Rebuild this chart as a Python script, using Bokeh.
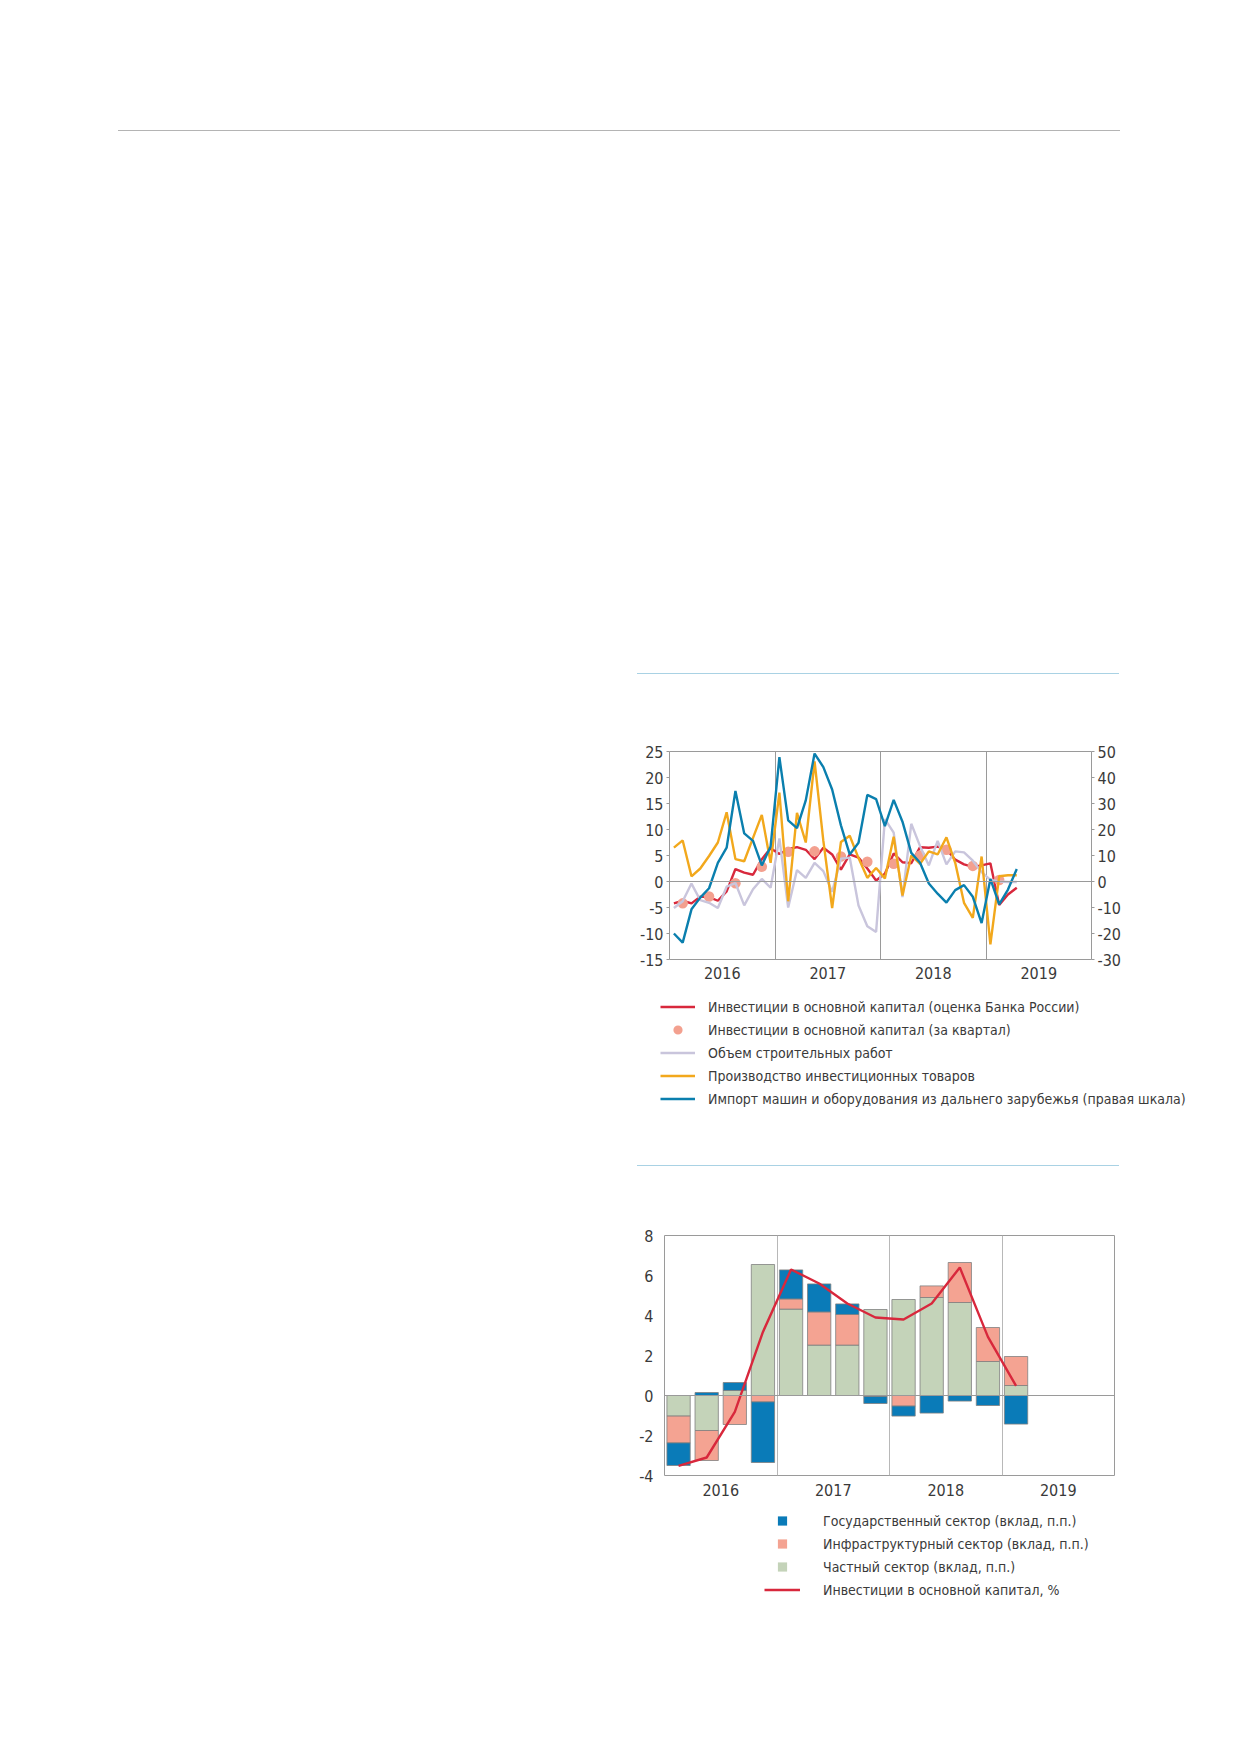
import numpy as np
from bokeh.plotting import figure
from bokeh.models import (Range1d, LinearAxis, FixedTicker, Span, Legend,
                          LegendItem, Spacer, Div)
from bokeh.layouts import column, row
from bokeh.embed import file_html
from bokeh.resources import INLINE

FONT = "'Liberation Sans Narrow', 'DejaVu Sans Condensed', sans-serif"

# ---------------- data: chart 1 (monthly, Jan 2016 .. Apr 2019) ----------------
month_index = list(range(40))
invest_cbr = [-4.2, -3.7, -4.2, -2.9, -3.0, -3.7, -1.9, 2.4, 1.7, 1.3, 4.3, 6.4,
              5.3, 6.2, 6.6, 6.1, 4.3, 6.5, 5.2, 2.3, 5.2, 4.6, 2.5, 0.2,
              1.5, 5.4, 3.7, 3.5, 6.6, 6.5, 6.7, 6.2, 4.2, 3.3, 2.8, 3.1,
              3.5, -4.5, -2.5, -1.2]
construction = [-5.1, -3.8, -0.4, -3.6, -4.1, -5.1, -1.0, -0.3, -4.6, -1.5, 0.5, -1.2,
                8.3, -5.0, 2.2, 0.7, 3.6, 2.0, -2.0, 4.4, 4.6, -4.6, -8.6, -9.7,
                12.0, 9.4, -3.0, 11.1, 6.8, 3.1, 7.8, 3.3, 5.8, 5.6, 4.0, 1.8,
                0.3, 0.0, -0.1, -0.1]
invest_goods = [6.5, 7.9, 1.0, 2.5, 4.9, 7.5, 13.3, 4.3, 3.9, 8.4, 12.8, 3.6,
                17.1, -3.8, 13.2, 7.5, 23.1, 7.8, -5.1, 7.6, 8.8, 4.5, 0.7, 2.6,
                0.6, 8.6, -2.7, 5.0, 3.4, 5.8, 5.2, 8.5, 3.6, -4.1, -7.0, 4.8,
                -12.1, 1.0, 1.2, 1.2]
machinery_import = [-20.0, -23.5, -10.7, -6.2, -2.6, 7.2, 13.0, 34.8, 18.5, 15.6, 6.2, 13.5,
                    47.8, 23.5, 20.5, 31.2, 49.2, 44.0, 35.4, 21.6, 10.4, 14.9, 33.3, 31.7,
                    21.3, 31.4, 23.0, 11.0, 7.2, -0.8, -4.7, -8.1, -3.3, -1.4, -5.9, -16.0,
                    1.0, -8.8, -3.1, 4.8]
quarter_index = list(range(13))          # 2016Q1 .. 2019Q1
invest_quarter = [-4.2, -2.9, -0.35, 2.85, 5.7, 5.8, 4.8, 3.8, 3.4, 5.0, 6.1, 3.0, 0.3]

years = ["2016", "2017", "2018", "2019"]
left_ticks = [-15, -10, -5, 0, 5, 10, 15, 20, 25]
right_ticks = [-30, -20, -10, 0, 10, 20, 30, 40, 50]

legend1_labels = [
    "Инвестиции в основной капитал (оценка Банка России)",
    "Инвестиции в основной капитал (за квартал)",
    "Объем строительных работ",
    "Производство инвестиционных товаров",
    "Импорт машин и оборудования из дальнего зарубежья (правая шкала)",
]

# ---------------- data: chart 2 (quarterly contributions) ----------------
gov_sector = [-1.13, 0.15, 0.40, -3.03, 1.45, 1.40, 0.53, -0.35, -0.50, -0.88, -0.28, -0.50, -1.43]
infra_sector = [-1.34, -1.50, -1.45, -0.32, 0.51, 1.66, 1.53, -0.05, -0.53, 0.58, 2.00, 1.70, 1.45]
private_sector = [-1.03, -1.75, 0.25, 6.55, 4.32, 2.52, 2.52, 4.30, 4.80, 4.90, 4.65, 1.70, 0.50]
invest_total = [-3.52, -3.10, -0.82, 3.18, 6.30, 5.60, 4.60, 3.90, 3.80, 4.60, 6.40, 2.93, 0.48]
bar_ticks = [-4, -2, 0, 2, 4, 6, 8]

legend2_labels = [
    "Государственный сектор (вклад, п.п.)",
    "Инфраструктурный сектор (вклад, п.п.)",
    "Частный сектор (вклад, п.п.)",
    "Инвестиции в основной капитал, %",
]

# ---------------- colours ----------------
RED = "#d8283c"
DOT = "#f3a08f"
GREY = "#c9c5dc"
ORANGE = "#f2a81c"
BLUE = "#0a7fae"
BAR_BLUE = "#0a7bb8"
BAR_PINK = "#f4a392"
BAR_GREEN = "#c4d3b9"
AXIS = "#9a9a9a"
TXT = "#3a3a3a"
TICK_SIZE = "16px"
LEG_SIZE = "14px"

mx = [2016 + (i + 0.5) / 12 for i in month_index]
qx_dots = [2016 + (3 * q + 1.5) / 12 for q in quarter_index]
qx_bars = [2016 + (q + 0.5) / 4 for q in quarter_index]
year_pos = [2016.5 + k for k in range(len(years))]


def style_axis(ax):
    ax.major_label_text_font = FONT
    ax.major_label_text_font_size = TICK_SIZE
    ax.major_label_text_color = TXT
    ax.axis_line_color = None
    ax.minor_tick_line_color = None


def hyphen_labels(ticks):
    return {t: str(t) for t in ticks}


def legend_figure(width, height, labels, makers, glyph_width, standoff):
    f = figure(width=width, height=height, x_range=Range1d(2016, 2020),
               y_range=Range1d(-30, 50), output_backend="svg",
               toolbar_location=None, x_axis_type=None, y_axis_type=None,
               min_border=0, outline_line_color=None)
    f.min_border_left = f.min_border_right = 0
    f.min_border_top = f.min_border_bottom = 0
    rends = [mk(f) for mk in makers]
    for r in rends:
        r.visible = False
    leg = Legend(items=[LegendItem(label=lab, renderers=[r]) for lab, r in zip(labels, rends)],
                 location="top_left", orientation="vertical",
                 glyph_width=glyph_width, glyph_height=23, label_height=23,
                 label_standoff=standoff, spacing=0, padding=0, margin=0,
                 border_line_alpha=0, background_fill_alpha=0, inactive_fill_alpha=0,
                 label_text_font=FONT, label_text_font_size=LEG_SIZE,
                 label_text_color=TXT)
    f.add_layout(leg)
    return f


# ================= chart 1 =================
p1 = figure(width=45 + 422 + 45, height=77 + 208 + 30,
            x_range=Range1d(2016, 2020), y_range=Range1d(-15, 25),
            output_backend="svg", toolbar_location=None,
            min_border_left=45, min_border_right=45, min_border_top=77,
            min_border_bottom=30)
p1.extra_y_ranges = {"right": Range1d(-30, 50)}
p1.outline_line_color = AXIS

p1.yaxis.ticker = FixedTicker(ticks=left_ticks)
p1.yaxis.major_label_overrides = hyphen_labels(left_ticks)
style_axis(p1.yaxis[0])
p1.yaxis.major_tick_in = 0
p1.yaxis.major_tick_out = 3
p1.yaxis.major_tick_line_color = AXIS
p1.yaxis.major_label_standoff = 3

rax = LinearAxis(y_range_name="right", ticker=FixedTicker(ticks=right_ticks),
                 major_label_overrides=hyphen_labels(right_ticks))
style_axis(rax)
rax.major_tick_in = 0
rax.major_tick_out = 3
rax.major_tick_line_color = AXIS
rax.major_label_standoff = 3
p1.add_layout(rax, "right")

p1.xaxis.ticker = FixedTicker(ticks=year_pos)
p1.xaxis.major_label_overrides = {pos: lab for pos, lab in zip(year_pos, years)}
style_axis(p1.xaxis[0])
p1.xaxis.major_tick_line_color = None
p1.xaxis.major_label_standoff = 1

p1.ygrid.grid_line_color = None
p1.xgrid.ticker = FixedTicker(ticks=[2017, 2018, 2019])
p1.xgrid.grid_line_color = AXIS
p1.xgrid.grid_line_width = 1
p1.add_layout(Span(location=0, dimension="width", line_color=AXIS, line_width=1))

line_kw = dict(line_width=2.4)
p1.line(mx, invest_cbr, line_color=RED, **line_kw)
p1.scatter(qx_dots, invest_quarter, size=10.5, marker="circle", fill_color=DOT, line_color=None)
p1.line(mx, construction, line_color=GREY, **line_kw)
p1.line(mx, invest_goods, line_color=ORANGE, **line_kw)
p1.line(mx, machinery_import, line_color=BLUE, y_range_name="right", **line_kw)

leg1 = legend_figure(
    560, 5 * 23, legend1_labels,
    [lambda f: f.line(mx, invest_cbr, line_color=RED, **line_kw),
     lambda f: f.scatter(qx_dots, invest_quarter, marker="circle", fill_color=DOT, line_color=None),
     lambda f: f.line(mx, construction, line_color=GREY, **line_kw),
     lambda f: f.line(mx, invest_goods, line_color=ORANGE, **line_kw),
     lambda f: f.line(mx, machinery_import, line_color=BLUE, **line_kw)],
    glyph_width=35, standoff=13)

# ================= chart 2 =================
p2 = figure(width=40 + 450 + 10, height=69 + 240 + 30,
            x_range=Range1d(2016, 2020), y_range=Range1d(-4, 8),
            output_backend="svg", toolbar_location=None,
            min_border_left=40, min_border_right=10, min_border_top=69,
            min_border_bottom=30)
p2.outline_line_color = AXIS
p2.yaxis.ticker = FixedTicker(ticks=bar_ticks)
p2.yaxis.major_label_overrides = hyphen_labels(bar_ticks)
style_axis(p2.yaxis[0])
p2.yaxis.major_tick_line_color = None
p2.yaxis.major_label_standoff = 5
p2.xaxis.ticker = FixedTicker(ticks=year_pos)
p2.xaxis.major_label_overrides = {pos: lab for pos, lab in zip(year_pos, years)}
style_axis(p2.xaxis[0])
p2.xaxis.major_tick_line_color = None
p2.xaxis.major_label_standoff = 2
p2.ygrid.grid_line_color = None
p2.xgrid.ticker = FixedTicker(ticks=[2017, 2018, 2019])
p2.xgrid.grid_line_color = "#b8b8b8"
p2.xgrid.grid_line_width = 1
p2.add_layout(Span(location=0, dimension="width", line_color=AXIS, line_width=1))

pos_base = np.zeros(len(qx_bars))
neg_base = np.zeros(len(qx_bars))
for vals, col in [(private_sector, BAR_GREEN), (infra_sector, BAR_PINK), (gov_sector, BAR_BLUE)]:
    v = np.array(vals, dtype=float)
    bottom = np.where(v >= 0, pos_base, neg_base)
    top = bottom + v
    pos_base = np.where(v >= 0, top, pos_base)
    neg_base = np.where(v < 0, top, neg_base)
    p2.vbar(x=qx_bars, width=0.207, bottom=bottom, top=top,
            fill_color=col, line_color="#808080", line_width=0.8)

p2.line(qx_bars, invest_total, line_color=RED, **line_kw)

leg2 = legend_figure(
    420, 4 * 23, legend2_labels,
    [lambda f: f.scatter(qx_bars, gov_sector, marker="square", fill_color=BAR_BLUE, line_color=None),
     lambda f: f.scatter(qx_bars, infra_sector, marker="square", fill_color=BAR_PINK, line_color=None),
     lambda f: f.scatter(qx_bars, private_sector, marker="square", fill_color=BAR_GREEN, line_color=None),
     lambda f: f.line(qx_bars, invest_total, line_color=RED, **line_kw)],
    glyph_width=36, standoff=23)


# ================= page layout =================
def hline(width, color):
    return Div(width=width, height=1, margin=0, text="",
               styles={"background-color": color})


def vgap(h):
    return Spacer(height=h, width=1, margin=0)


def shifted(x, obj):
    return row(Spacer(width=x, height=1, margin=0), obj, margin=0)


page = column(
    vgap(130),
    shifted(118, hline(1002, "#b4b4b4")),   # y = 130
    vgap(542),
    shifted(637, hline(482, "#a9d2e4")),    # y = 673
    shifted(624, p1),                       # 674 .. 989
    vgap(6),
    shifted(660, leg1),                     # 995 .. 1110
    vgap(55),
    shifted(637, hline(482, "#a9d2e4")),    # y = 1165
    shifted(624, p2),                       # 1166 .. 1505
    vgap(4),
    shifted(764, leg2),                     # 1509 .. 1601
    margin=0,
)

open("out.html", "w").write(file_html(page, INLINE))
